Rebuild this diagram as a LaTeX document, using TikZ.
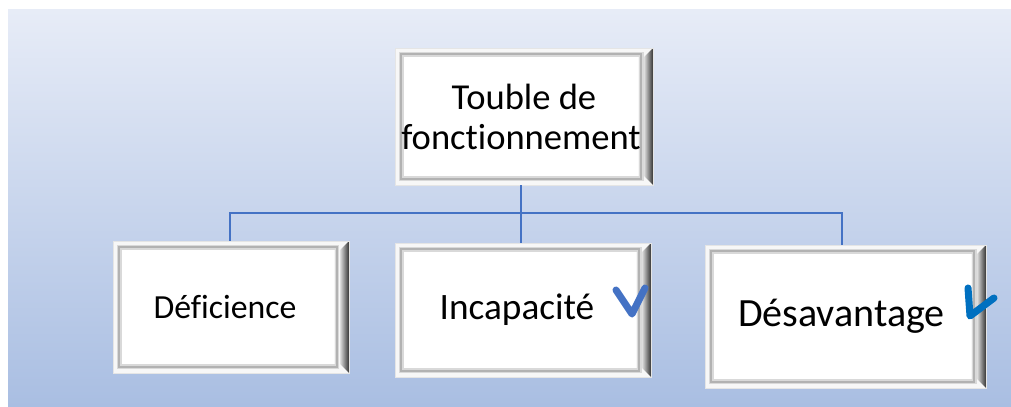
\documentclass[tikz,border=0pt]{standalone}
\usepackage{fontspec}
\setmainfont[Ligatures=NoCommon]{Carlito}
\usepackage{xcolor}
\usetikzlibrary{backgrounds, calc}
\definecolor{wireblue}{HTML}{4472C4}
\definecolor{tickblue}{HTML}{0070C0}
\definecolor{bgtop}{HTML}{E7ECF7}
\definecolor{bgbottom}{HTML}{A9BEE2}
\tikzstyle{frame} = [rectangle, fill=white, draw=gray!20, line width=0.3pt, align=center, inner sep=0pt,
  path picture={
    \coordinate (sw) at (path picture bounding box.south west);
    \coordinate (ne) at (path picture bounding box.north east);
    \coordinate (se) at (path picture bounding box.south east);
    \fill[gray!6] (sw) rectangle (ne);
    \draw[gray!30, line width=3.5pt] ($(sw)+(0.16cm,0.16cm)$) rectangle ($(ne)+(-0.3cm,-0.16cm)$);
    \draw[gray!60, line width=1.4pt] ($(sw)+(0.15cm,0.15cm)$) rectangle ($(ne)+(-0.29cm,-0.15cm)$);
    \fill[white] ($(sw)+(0.23cm,0.23cm)$) rectangle ($(ne)+(-0.38cm,-0.23cm)$);
    \shade[left color=gray!30, right color=black!80] (ne) -- ($(ne)+(-0.22cm,-0.22cm)$) -- ($(se)+(-0.22cm,0.22cm)$) -- (se) -- cycle;
  }]
\tikzstyle{wire} = [draw, wireblue, line width=1.3pt]
\tikzstyle{tick} = [line width=5pt, line cap=round, line join=round]

\begin{document}
\begin{tikzpicture}[x=0.025cm, y=-0.025cm]
    \useasboundingbox (0,0) rectangle (1011,407);

    % Nodes
    \node [frame, minimum width=6.45cm, minimum height=3.425cm, font=\fontsize{26}{28.5}\selectfont] (trouble) at (524,116.5) {Touble de\\fonctionnement\hspace*{0.15cm}};
    \node [frame, minimum width=5.9cm, minimum height=3.3cm, font=\fontsize{24}{26}\selectfont] (deficience) at (231,307) {Déficience\hspace*{0.3cm}};
    \node [frame, minimum width=6.4cm, minimum height=3.35cm, font=\fontsize{26.5}{28}\selectfont] (incapacite) at (523,310) {Incapacité\hspace*{0.3cm}};
    \node [frame, minimum width=7.025cm, minimum height=3.575cm, font=\fontsize{28.5}{30}\selectfont] (desavantage) at (845.5,316.5) {Désavantage\hspace*{0.2cm}};
    \coordinate (hub) at (521,213);

    % Lines
    \path [wire] (trouble.south -| hub) -- (incapacite.north -| hub);
    \path [wire] (deficience.north -| 230,0) |- (hub) -| (desavantage.north -| 842,0);

    % Ticks
    \draw [tick, wireblue] (616,290) -- (632,314) -- (645,288);
    \draw [tick, tickblue] (968,288) -- (970,316) -- (994,298);

    % Background
    \begin{pgfonlayer}{background}
        \shade [top color=bgtop, bottom color=bgbottom] (8,10) rectangle (1011,407);
    \end{pgfonlayer}
\end{tikzpicture}
\end{document}
